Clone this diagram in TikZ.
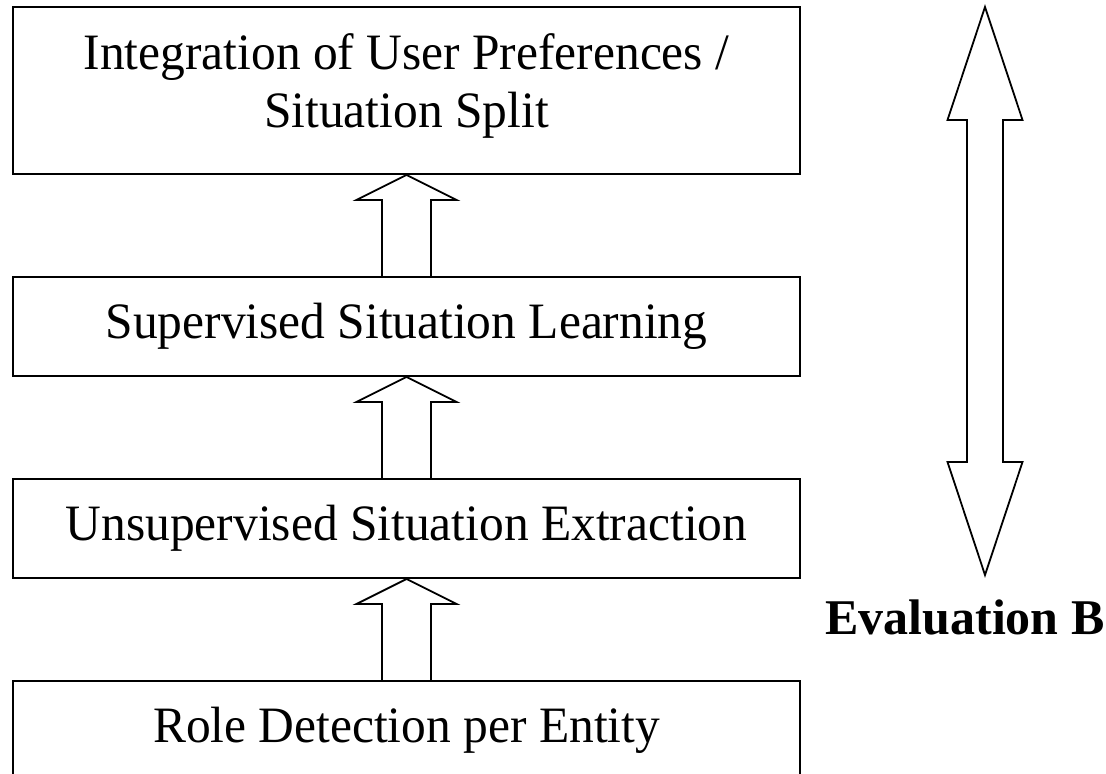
\documentclass[tikz,border=0pt]{standalone}
\usepackage{fontspec}
\setmainfont{Liberation Serif}
\newfontfamily\boxfont[FakeStretch=0.97]{Liberation Serif}
\usepackage{tikz}
\usetikzlibrary{calc,positioning}

\begin{document}
\begin{tikzpicture}[
  x=1pt,y=1pt,
  node distance=50.5pt,
  box/.style={rectangle,draw=black,line width=1pt,fill=white,minimum width=393.5pt,minimum height=49.5pt,inner sep=0pt,align=center,font=\boxfont\fontsize{25.5}{29}\selectfont},
  blockup/.style={line width=0.9pt,line join=miter,to path={
    ($(\tikztostart)+(-12.25,0)$) -- ($(\tikztotarget)+(-12.25,-12.5)$) -- ($(\tikztotarget)+(-25,-12.5)$)
    -- (\tikztotarget) -- ($(\tikztotarget)+(25,-12.5)$) -- ($(\tikztotarget)+(12.25,-12.5)$) -- ($(\tikztostart)+(12.25,0)$)}},
  blockboth/.style={line width=0.9pt,line join=miter,to path={
    (\tikztotarget) -- ($(\tikztotarget)+(18.75,-56.5)$) -- ($(\tikztotarget)+(9,-56.5)$)
    -- ($(\tikztostart)+(9,56.5)$) -- ($(\tikztostart)+(18.75,56.5)$) -- (\tikztostart)
    -- ($(\tikztostart)+(-18.75,56.5)$) -- ($(\tikztostart)+(-9,56.5)$)
    -- ($(\tikztotarget)+(-9,-56.5)$) -- ($(\tikztotarget)+(-18.75,-56.5)$) -- cycle}}
]
\useasboundingbox (0,0) rectangle (553,387);
\node[box,minimum height=83.5pt] (integration) at (203.25,341.75) {Integration of User Preferences /\\Situation Split\vspace{5pt}};
\node[box,below=of integration] (supervised) {Supervised Situation Learning};
\node[box,below=of supervised] (unsupervised) {Unsupervised Situation Extraction};
\node[box,below=of unsupervised] (roles) {Role Detection per Entity};
\draw[blockup] (roles.north) to (unsupervised.south);
\draw[blockup] (unsupervised.north) to (supervised.south);
\draw[blockup] (supervised.north) to (integration.south);
% evaluation range
\coordinate (evaltop) at (492.5,383.5);
\coordinate (evalbot) at (492.5,99.5);
\draw[blockboth] (evalbot) to (evaltop);
\node[anchor=base,inner sep=0pt,font=\fontsize{25}{29}\selectfont\bfseries] (evalB) at (482.5,69.5) {Evaluation B};
\end{tikzpicture}
\end{document}
